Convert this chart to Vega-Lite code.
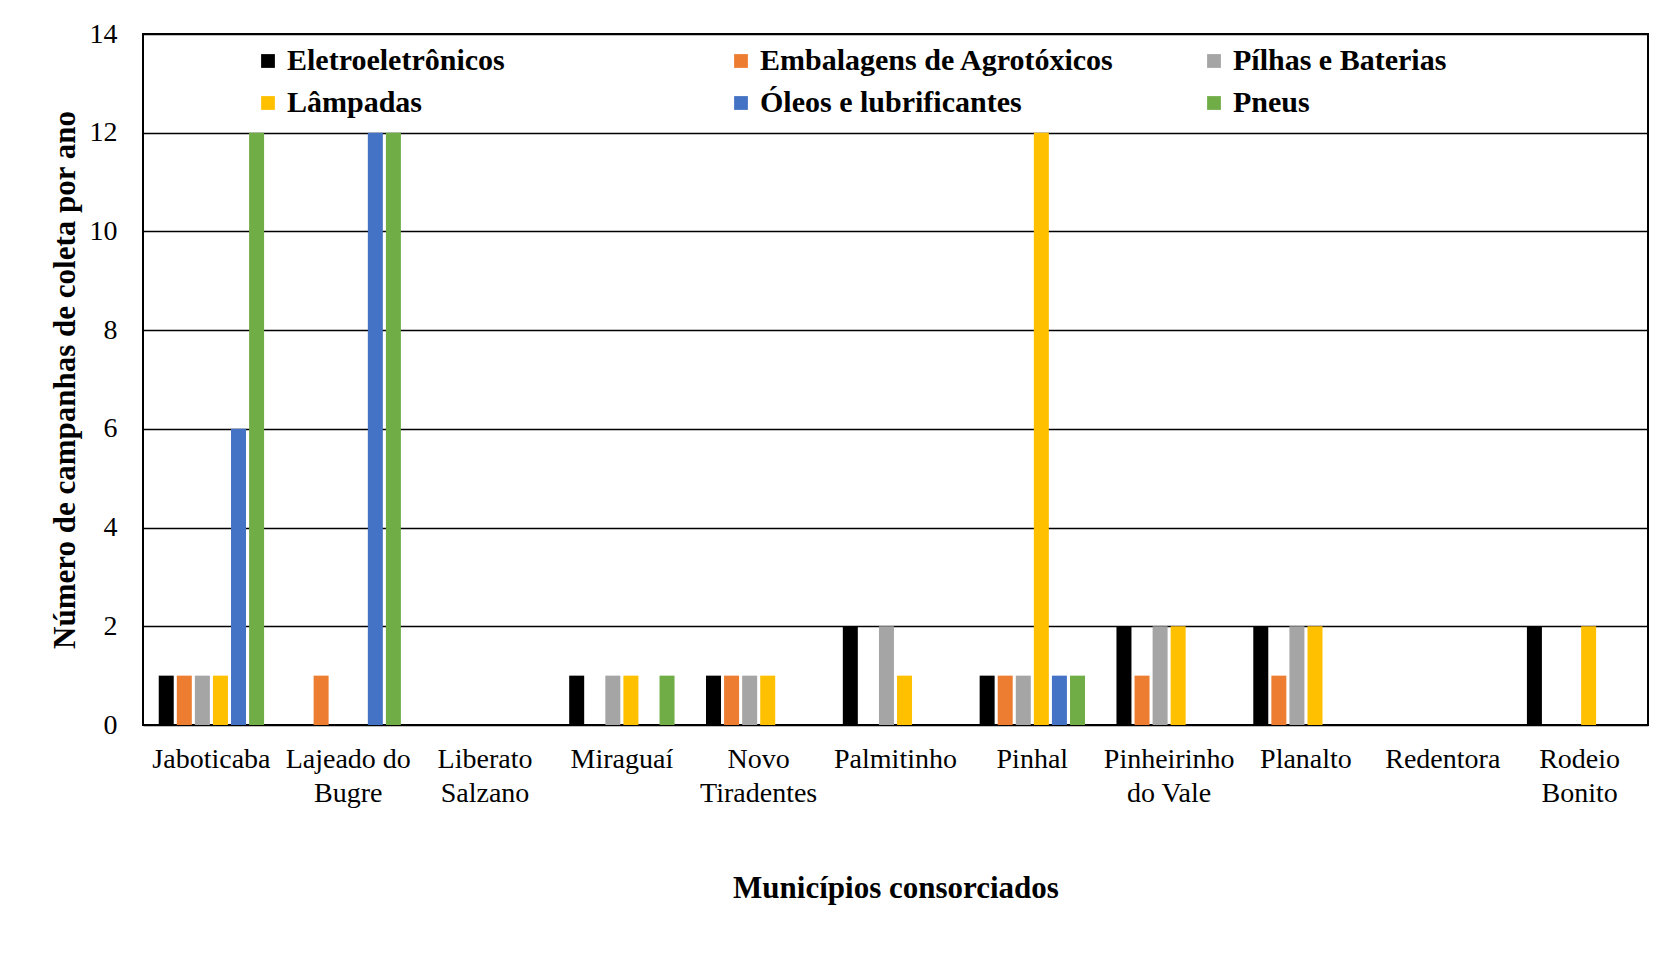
{
  "$schema": "https://vega.github.io/schema/vega-lite/v6.json",
  "autosize": {"type": "none"},
  "width": 1505,
  "height": 691,
  "padding": {"left": 143, "top": 34, "right": 8, "bottom": 229},
  "background": "white",
  "config": {
    "font": "Liberation Serif",
    "view": {"stroke": "black", "strokeWidth": 2}
  },
  "data": {
    "values": [
      {"municipio": "Jaboticaba", "tipo": "Eletroeletrônicos", "valor": 1},
      {"municipio": "Jaboticaba", "tipo": "Embalagens de Agrotóxicos", "valor": 1},
      {"municipio": "Jaboticaba", "tipo": "Pílhas e Baterias", "valor": 1},
      {"municipio": "Jaboticaba", "tipo": "Lâmpadas", "valor": 1},
      {"municipio": "Jaboticaba", "tipo": "Óleos e lubrificantes", "valor": 6},
      {"municipio": "Jaboticaba", "tipo": "Pneus", "valor": 12},
      {"municipio": "Lajeado do Bugre", "tipo": "Eletroeletrônicos", "valor": 0},
      {"municipio": "Lajeado do Bugre", "tipo": "Embalagens de Agrotóxicos", "valor": 1},
      {"municipio": "Lajeado do Bugre", "tipo": "Pílhas e Baterias", "valor": 0},
      {"municipio": "Lajeado do Bugre", "tipo": "Lâmpadas", "valor": 0},
      {"municipio": "Lajeado do Bugre", "tipo": "Óleos e lubrificantes", "valor": 12},
      {"municipio": "Lajeado do Bugre", "tipo": "Pneus", "valor": 12},
      {"municipio": "Liberato Salzano", "tipo": "Eletroeletrônicos", "valor": 0},
      {"municipio": "Liberato Salzano", "tipo": "Embalagens de Agrotóxicos", "valor": 0},
      {"municipio": "Liberato Salzano", "tipo": "Pílhas e Baterias", "valor": 0},
      {"municipio": "Liberato Salzano", "tipo": "Lâmpadas", "valor": 0},
      {"municipio": "Liberato Salzano", "tipo": "Óleos e lubrificantes", "valor": 0},
      {"municipio": "Liberato Salzano", "tipo": "Pneus", "valor": 0},
      {"municipio": "Miraguaí", "tipo": "Eletroeletrônicos", "valor": 1},
      {"municipio": "Miraguaí", "tipo": "Embalagens de Agrotóxicos", "valor": 0},
      {"municipio": "Miraguaí", "tipo": "Pílhas e Baterias", "valor": 1},
      {"municipio": "Miraguaí", "tipo": "Lâmpadas", "valor": 1},
      {"municipio": "Miraguaí", "tipo": "Óleos e lubrificantes", "valor": 0},
      {"municipio": "Miraguaí", "tipo": "Pneus", "valor": 1},
      {"municipio": "Novo Tiradentes", "tipo": "Eletroeletrônicos", "valor": 1},
      {"municipio": "Novo Tiradentes", "tipo": "Embalagens de Agrotóxicos", "valor": 1},
      {"municipio": "Novo Tiradentes", "tipo": "Pílhas e Baterias", "valor": 1},
      {"municipio": "Novo Tiradentes", "tipo": "Lâmpadas", "valor": 1},
      {"municipio": "Novo Tiradentes", "tipo": "Óleos e lubrificantes", "valor": 0},
      {"municipio": "Novo Tiradentes", "tipo": "Pneus", "valor": 0},
      {"municipio": "Palmitinho", "tipo": "Eletroeletrônicos", "valor": 2},
      {"municipio": "Palmitinho", "tipo": "Embalagens de Agrotóxicos", "valor": 0},
      {"municipio": "Palmitinho", "tipo": "Pílhas e Baterias", "valor": 2},
      {"municipio": "Palmitinho", "tipo": "Lâmpadas", "valor": 1},
      {"municipio": "Palmitinho", "tipo": "Óleos e lubrificantes", "valor": 0},
      {"municipio": "Palmitinho", "tipo": "Pneus", "valor": 0},
      {"municipio": "Pinhal", "tipo": "Eletroeletrônicos", "valor": 1},
      {"municipio": "Pinhal", "tipo": "Embalagens de Agrotóxicos", "valor": 1},
      {"municipio": "Pinhal", "tipo": "Pílhas e Baterias", "valor": 1},
      {"municipio": "Pinhal", "tipo": "Lâmpadas", "valor": 12},
      {"municipio": "Pinhal", "tipo": "Óleos e lubrificantes", "valor": 1},
      {"municipio": "Pinhal", "tipo": "Pneus", "valor": 1},
      {"municipio": "Pinheirinho do Vale", "tipo": "Eletroeletrônicos", "valor": 2},
      {"municipio": "Pinheirinho do Vale", "tipo": "Embalagens de Agrotóxicos", "valor": 1},
      {"municipio": "Pinheirinho do Vale", "tipo": "Pílhas e Baterias", "valor": 2},
      {"municipio": "Pinheirinho do Vale", "tipo": "Lâmpadas", "valor": 2},
      {"municipio": "Pinheirinho do Vale", "tipo": "Óleos e lubrificantes", "valor": 0},
      {"municipio": "Pinheirinho do Vale", "tipo": "Pneus", "valor": 0},
      {"municipio": "Planalto", "tipo": "Eletroeletrônicos", "valor": 2},
      {"municipio": "Planalto", "tipo": "Embalagens de Agrotóxicos", "valor": 1},
      {"municipio": "Planalto", "tipo": "Pílhas e Baterias", "valor": 2},
      {"municipio": "Planalto", "tipo": "Lâmpadas", "valor": 2},
      {"municipio": "Planalto", "tipo": "Óleos e lubrificantes", "valor": 0},
      {"municipio": "Planalto", "tipo": "Pneus", "valor": 0},
      {"municipio": "Redentora", "tipo": "Eletroeletrônicos", "valor": 0},
      {"municipio": "Redentora", "tipo": "Embalagens de Agrotóxicos", "valor": 0},
      {"municipio": "Redentora", "tipo": "Pílhas e Baterias", "valor": 0},
      {"municipio": "Redentora", "tipo": "Lâmpadas", "valor": 0},
      {"municipio": "Redentora", "tipo": "Óleos e lubrificantes", "valor": 0},
      {"municipio": "Redentora", "tipo": "Pneus", "valor": 0},
      {"municipio": "Rodeio Bonito", "tipo": "Eletroeletrônicos", "valor": 2},
      {"municipio": "Rodeio Bonito", "tipo": "Embalagens de Agrotóxicos", "valor": 0},
      {"municipio": "Rodeio Bonito", "tipo": "Pílhas e Baterias", "valor": 0},
      {"municipio": "Rodeio Bonito", "tipo": "Lâmpadas", "valor": 2},
      {"municipio": "Rodeio Bonito", "tipo": "Óleos e lubrificantes", "valor": 0},
      {"municipio": "Rodeio Bonito", "tipo": "Pneus", "valor": 0}
    ]
  },
  "mark": {"type": "bar"},
  "encoding": {
    "x": {
      "field": "municipio",
      "type": "nominal",
      "sort": ["Jaboticaba", "Lajeado do Bugre", "Liberato Salzano", "Miraguaí", "Novo Tiradentes", "Palmitinho", "Pinhal", "Pinheirinho do Vale", "Planalto", "Redentora", "Rodeio Bonito"],
      "scale": {"paddingInner": 0.23, "paddingOuter": 0.115},
      "axis": {
        "title": "Municípios  consorciados",
        "titleFont": "Liberation Serif",
        "titleFontSize": 31,
        "titleFontWeight": "bold",
        "titleColor": "black",
        "titlePadding": 66,
        "labelAngle": 0,
        "labelFontSize": 28,
        "labelColor": "black",
        "labelPadding": 20,
        "labelLineHeight": 34,
        "labelBaseline": "top",
        "labelLimit": 300,
        "ticks": false,
        "domain": false,
        "labelExpr": "datum.value == 'Lajeado do Bugre' ? ['Lajeado do', 'Bugre'] : datum.value == 'Liberato Salzano' ? ['Liberato', 'Salzano'] : datum.value == 'Novo Tiradentes' ? ['Novo', 'Tiradentes'] : datum.value == 'Pinheirinho do Vale' ? ['Pinheirinho', 'do Vale'] : datum.value == 'Rodeio Bonito' ? ['Rodeio', 'Bonito'] : datum.value"
      }
    },
    "xOffset": {
      "field": "tipo",
      "type": "nominal",
      "sort": ["Eletroeletrônicos", "Embalagens de Agrotóxicos", "Pílhas e Baterias", "Lâmpadas", "Óleos e lubrificantes", "Pneus"],
      "scale": {"paddingInner": 0.17, "paddingOuter": 0}
    },
    "y": {
      "field": "valor",
      "type": "quantitative",
      "scale": {"domain": [0, 14], "nice": false},
      "axis": {
        "title": "Número de campanhas  de coleta por ano",
        "titleFont": "Liberation Serif",
        "titleFontSize": 31,
        "titleFontWeight": "bold",
        "titleColor": "black",
        "titlePadding": 8,
        "values": [0, 2, 4, 6, 8, 10, 12, 14],
        "labelFontSize": 28,
        "labelColor": "black",
        "labelPadding": 26,
        "ticks": false,
        "domain": false,
        "grid": true,
        "gridColor": "black",
        "gridWidth": 1.5,
        "gridOpacity": 1
      }
    },
    "color": {
      "field": "tipo",
      "type": "nominal",
      "sort": ["Eletroeletrônicos", "Embalagens de Agrotóxicos", "Pílhas e Baterias", "Lâmpadas", "Óleos e lubrificantes", "Pneus"],
      "scale": {
        "domain": ["Eletroeletrônicos", "Embalagens de Agrotóxicos", "Pílhas e Baterias", "Lâmpadas", "Óleos e lubrificantes", "Pneus"],
        "range": ["#000000", "#ED7D31", "#A5A5A5", "#FFC000", "#4472C4", "#70AD47"]
      },
      "legend": {
        "title": null,
        "orient": "none",
        "legendX": 110,
        "legendY": 12,
        "direction": "horizontal",
        "columns": 3,
        "gridAlign": "all",
        "columnPadding": 84,
        "rowPadding": 12,
        "symbolType": "square",
        "symbolSize": 190,
        "symbolStrokeWidth": 0,
        "symbolOpacity": 1,
        "labelFont": "Liberation Serif",
        "labelFontSize": 30,
        "labelFontWeight": "bold",
        "labelColor": "black",
        "labelOffset": 4,
        "labelLimit": 600
      }
    }
  }
}
